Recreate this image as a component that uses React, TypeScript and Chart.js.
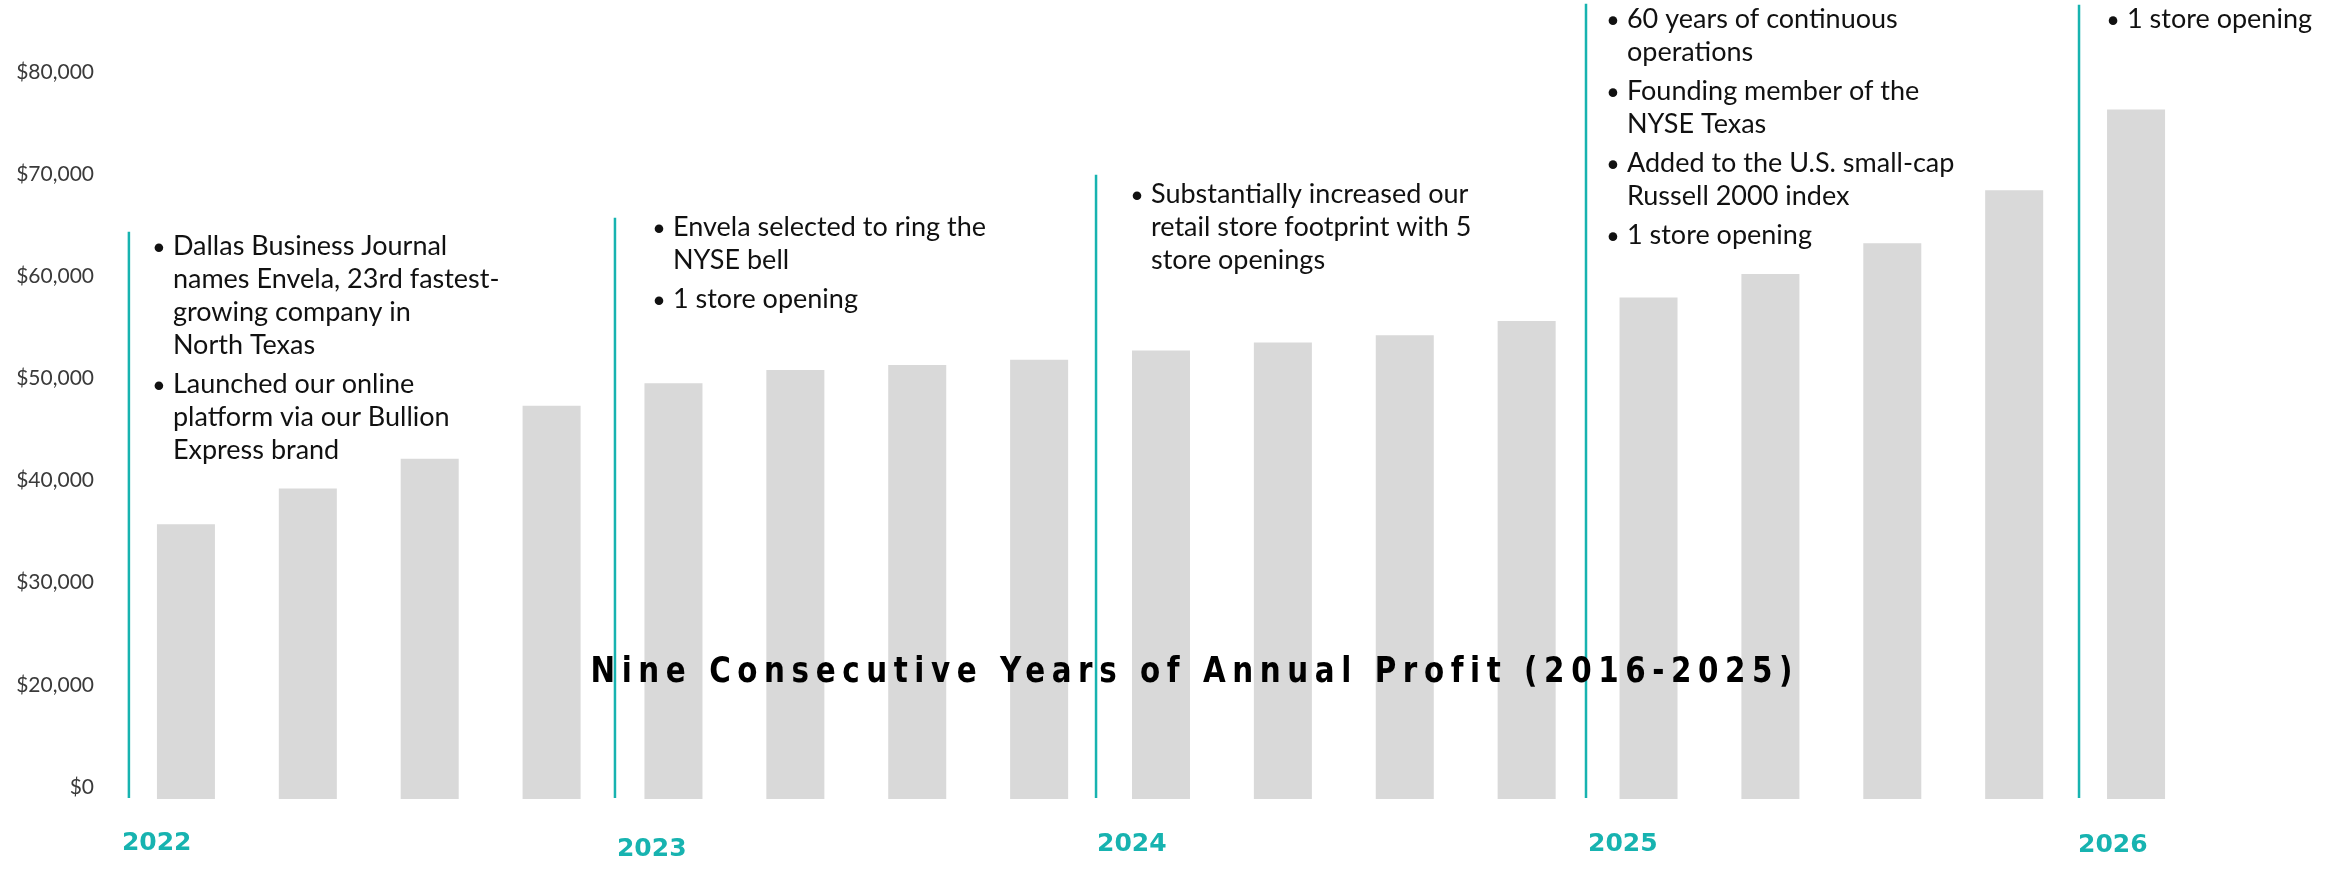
import React, { useEffect, useRef } from "react";
import { Chart, registerables } from "chart.js";

Chart.register(...registerables);

// ---- data ----
const categories = [
  "Q1 2022", "Q2 2022", "Q3 2022", "Q4 2022",
  "Q1 2023", "Q2 2023", "Q3 2023", "Q4 2023",
  "Q1 2024", "Q2 2024", "Q3 2024", "Q4 2024",
  "Q1 2025", "Q2 2025", "Q3 2025", "Q4 2025",
  "Q1 2026",
];
const profitValues = [
  36900, 40400, 43300, 48500,
  50700, 52000, 52500, 53000,
  53900, 54700, 55400, 56800,
  59100, 61400, 64400, 69600,
  77500,
];
const yTickLabels = ["$0", "$20,000", "$30,000", "$40,000", "$50,000", "$60,000", "$70,000", "$80,000"];
const yAxisMin = 10000;
const yAxisMax = 80000;
const yAxisStep = 10000;

const milestoneYears = ["2022", "2023", "2024", "2025", "2026"];
const milestonePositions = [-0.468, 3.52, 7.467, 11.487, 15.532];
const milestoneLineTops = [65530, 66900, 71120, 87860, 87770];
const milestoneNotes: string[][][] = [
  [
    ["Dallas Business Journal", "names Envela, 23rd fastest-", "growing company in", "North Texas"],
    ["Launched our online", "platform via our Bullion", "Express brand"],
  ],
  [
    ["Envela selected to ring the", "NYSE bell"],
    ["1 store opening"],
  ],
  [
    ["Substantially increased our", "retail store footprint with 5", "store openings"],
  ],
  [
    ["60 years of continuous", "operations"],
    ["Founding member of the", "NYSE Texas"],
    ["Added to the U.S. small-cap", "Russell 2000 index"],
    ["1 store opening"],
  ],
  [["1 store opening"]],
];
const noteTextX = [-0.107, 3.996, 7.918, 11.823, 15.926];
const noteTextY = [64070, 65930, 69160, 86300, 86300];

const titleText = "Nine Consecutive Years of Annual Profit (2016-2025)";
const titleX = 8.246;
const titleY = 22340;

// ---- style ----
const TEAL = "#17B3B0";
const BAR_GREY = "#D9D9D9";
const NOTE_FONT = "27px Lato, 'Open Sans', sans-serif";
const LINE_H = 33;
const PARA_GAP = 6;
const yearDx = [-7, 2, 1, 2, -1];
const yearDy = [44, 50, 45, 45, 46];
const TITLE_WIDTH = 1201;
const TITLE_SQUEEZE = 0.84;

const milestonePlugin = {
  id: "milestones",
  afterDatasetsDraw(chart: any) {
    const { ctx, chartArea } = chart;
    const x = chart.scales.x;
    const y = chart.scales.y;
    ctx.save();
    milestoneYears.forEach((year, i) => {
      const lx = x.getPixelForValue(milestonePositions[i]);
      const top = y.getPixelForValue(milestoneLineTops[i]);
      ctx.strokeStyle = TEAL;
      ctx.lineWidth = 2.5;
      ctx.beginPath();
      ctx.moveTo(lx, top);
      ctx.lineTo(lx, chartArea.bottom - 1);
      ctx.stroke();

      ctx.fillStyle = TEAL;
      ctx.font = "bold 25px 'DejaVu Sans', sans-serif";
      ctx.textAlign = "left";
      ctx.textBaseline = "middle";
      ctx.fillText(year, lx + yearDx[i], chartArea.bottom + yearDy[i]);

      const tx = x.getPixelForValue(noteTextX[i]);
      let ty = y.getPixelForValue(noteTextY[i]);
      ctx.font = NOTE_FONT;
      ctx.fillStyle = "#111111";
      milestoneNotes[i].forEach((para, pi) => {
        if (pi > 0) ty += PARA_GAP;
        para.forEach((line, li) => {
          if (li === 0) {
            ctx.beginPath();
            ctx.arc(tx - 14, ty + 1, 4.3, 0, Math.PI * 2);
            ctx.fill();
          }
          ctx.fillText(line, tx, ty);
          ty += LINE_H;
        });
      });
    });

    // title (condensed look via horizontal squeeze)
    ctx.font = "bold 35px 'DejaVu Sans', sans-serif";
    ctx.fillStyle = "#000000";
    ctx.textBaseline = "middle";
    ctx.textAlign = "left";
    (ctx as any).letterSpacing = "0px";
    const w0 = ctx.measureText(titleText).width * TITLE_SQUEEZE;
    const sp = (TITLE_WIDTH - w0) / (titleText.length - 1) / TITLE_SQUEEZE;
    (ctx as any).letterSpacing = sp + "px";
    const cx = x.getPixelForValue(titleX);
    const startX = cx - TITLE_WIDTH / 2;
    ctx.translate(startX, y.getPixelForValue(titleY));
    ctx.scale(TITLE_SQUEEZE, 1);
    ctx.fillText(titleText, 0, 0);
    (ctx as any).letterSpacing = "0px";
    ctx.restore();
  },
};

export default function App() {
  const canvasRef = useRef<HTMLCanvasElement | null>(null);

  useEffect(() => {
    if (!canvasRef.current) return;
    const chart = new Chart(canvasRef.current, {
      type: "bar",
      data: {
        labels: categories,
        datasets: [
          {
            data: profitValues,
            backgroundColor: BAR_GREY,
            barPercentage: 0.476,
            categoryPercentage: 1,
            base: yAxisMin,
          } as any,
        ],
      },
      options: {
        animation: false,
        responsive: false,
        devicePixelRatio: 1,
        layout: { padding: { left: 16, right: 134, top: 84, bottom: 73 } },
        plugins: {
          legend: { display: false },
          tooltip: { enabled: false },
          title: { display: false },
        },
        scales: {
          x: { display: false },
          y: {
            min: yAxisMin,
            max: yAxisMax,
            afterFit: (scale: any) => {
              scale.width = 109;
            },
            ticks: {
              stepSize: yAxisStep,
              callback: (_v: any, i: number) => yTickLabels[i],
              labelOffset: -12,
              padding: 31,
              color: "#3a3a3a",
              font: { family: "Lato, 'Open Sans', sans-serif", size: 21 },
            },
            grid: { display: false, drawTicks: false },
            border: { display: false },
          },
        },
      },
      plugins: [milestonePlugin],
    });
    return () => chart.destroy();
  }, []);

  return (
    <div style={{ position: "fixed", left: 0, top: 0, width: 2331, height: 872, background: "#fff" }}>
      <canvas ref={canvasRef} width={2331} height={872} style={{ display: "block" }} />
    </div>
  );
}
